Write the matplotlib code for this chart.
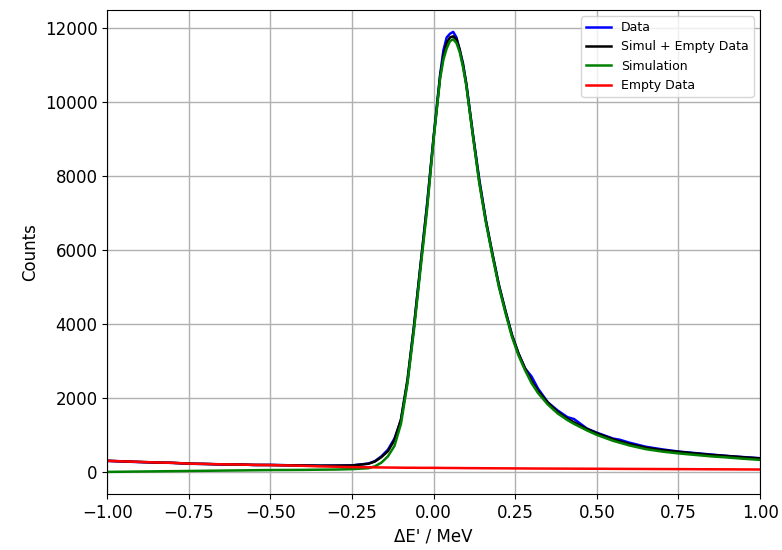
#!/usr/bin/env python3
"""Energy-transfer spectrum: measured data vs simulation plus empty-cell background."""
import matplotlib
matplotlib.use("Agg")
import matplotlib.pyplot as plt

# energy transfer bins (MeV)
x = [-1.00, -0.95, -0.90, -0.85, -0.80, -0.75, -0.70, -0.65, -0.60, -0.55,
     -0.50, -0.45, -0.40, -0.35, -0.30, -0.25, -0.20, -0.18, -0.16, -0.14,
     -0.12, -0.10, -0.08, -0.06, -0.04, -0.02, 0.00, 0.02, 0.03, 0.04,
     0.05, 0.06, 0.07, 0.08, 0.09, 0.10, 0.12, 0.14, 0.16, 0.18,
     0.20, 0.22, 0.24, 0.26, 0.28, 0.30, 0.32, 0.35, 0.38, 0.41,
     0.43, 0.47, 0.50, 0.55, 0.57, 0.60, 0.65, 0.70, 0.75, 0.80,
     0.85, 0.90, 0.95, 1.00]

data = [300, 280, 265, 250, 245, 220, 215, 200, 205, 185,
        190, 180, 175, 165, 170, 175, 225, 290, 420, 600,
        900, 1400, 2450, 3950, 5600, 7250, 9050, 10750, 11400, 11750,
        11850, 11900, 11750, 11400, 11050, 10500, 9150, 7900, 6800, 5900,
        5050, 4350, 3700, 3200, 2800, 2580, 2250, 1880, 1660, 1480,
        1430, 1170, 1060, 900, 870, 790, 680, 610, 550, 510,
        470, 430, 400, 370]

simul_empty = [300, 285, 270, 255, 245, 225, 215, 205, 200, 190,
               185, 180, 175, 170, 170, 175, 220, 280, 400, 560,
               860, 1420, 2500, 3950, 5600, 7200, 9050, 10700, 11250, 11600,
               11750, 11780, 11700, 11420, 11000, 10500, 9150, 7850, 6800, 5900,
               5050, 4350, 3700, 3200, 2800, 2460, 2190, 1870, 1620, 1440,
               1340, 1160, 1045, 880, 830, 755, 655, 590, 545, 500,
               460, 430, 395, 365]

simulation = [0, 5, 10, 15, 20, 25, 30, 35, 40, 45,
              50, 52, 55, 60, 64, 75, 100, 150, 250, 420,
              700, 1300, 2400, 3850, 5500, 7100, 9000, 10650, 11150, 11450,
              11650, 11700, 11600, 11350, 10950, 10450, 9100, 7800, 6750, 5850,
              5000, 4300, 3650, 3150, 2750, 2400, 2130, 1820, 1580, 1400,
              1300, 1120, 1000, 840, 790, 715, 615, 550, 500, 460,
              420, 390, 355, 325]

empty = [300, 285, 270, 255, 245, 225, 215, 205, 200, 190,
         185, 175, 165, 150, 140, 130, 125, 122, 120, 118,
         116, 114, 112, 112, 110, 110, 110, 108, 107, 106,
         106, 105, 105, 104, 103, 102, 101, 100, 99, 98,
         97, 96, 95, 94, 93, 92, 91, 90, 89, 88,
         87, 86, 85, 83, 82, 81, 79, 77, 75, 73,
         71, 69, 67, 65]

plt.rcParams["font.size"] = 12

fig = plt.figure(figsize=(7.82, 5.5), dpi=100)
ax = fig.add_axes([0.137, 0.102, 0.835, 0.88])

ax.plot(x, data, color="blue", lw=1.8, label="Data")
ax.plot(x, simul_empty, color="black", lw=1.8, label="Simul + Empty Data")
ax.plot(x, simulation, color="green", lw=1.8, label="Simulation")
ax.plot(x, empty, color="red", lw=1.8, label="Empty Data")

ax.set_xlim(-1, 1)
ax.set_xlabel("ΔE' / MeV")
ax.set_ylabel("Counts")
ax.grid(True, color="#b0b0b0", lw=1.0)
ax.legend(loc="upper right", fontsize=9)

fig.savefig("out.png", dpi=100)
